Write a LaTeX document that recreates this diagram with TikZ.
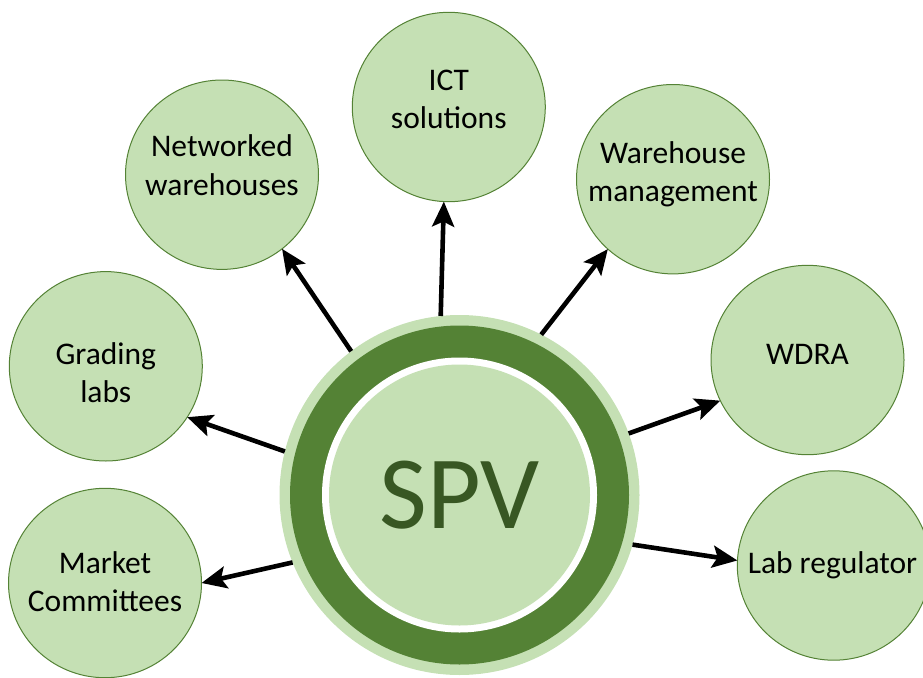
\documentclass[tikz,border=0pt]{standalone}
\usepackage{fontspec}
\setmainfont{Carlito}
\usetikzlibrary{shapes.geometric,arrows.meta}
\definecolor{lightg}{HTML}{C5E0B4}
\definecolor{darkg}{HTML}{548235}
\definecolor{textg}{HTML}{385723}
\begin{document}
\begin{tikzpicture}[x=1pt,y=-1pt,
  sat/.style={ellipse, draw=darkg, line width=1pt, fill=lightg, minimum width=193pt, minimum height=189.4pt, inner sep=0pt, outer sep=0pt},
  lbl/.style={anchor=base, inner sep=0pt, font=\fontsize{31.5}{38.5}\selectfont, text=black},
  disc/.style={circle, inner sep=0pt, outer sep=0pt},
  conn/.style={line width=4.6pt, -{Stealth[length=25pt,width=22pt,inset=5pt]}},
]
\useasboundingbox (0,0) rectangle (923,677);
% central SPV
\node[disc, fill=lightg, minimum size=360pt] (spv) at (459.5,495) {};
\node[disc, fill=darkg, minimum size=339pt] (ring) at (spv.center) {};
\node[disc, fill=white, minimum size=275pt] (gap) at (spv.center) {};
\node[disc, fill=lightg, minimum size=261pt, font=\fontsize{104}{120}\selectfont, text=textg] (core) at (spv.center) {SPV};
% satellites
\node[sat] (nw) at (222,174.7) {};
\node[lbl] (nwt) at (222,156.7) {\begin{tabular}[t]{@{}c@{}}Networked\\warehouses\end{tabular}};
\node[sat] (ict) at (448.8,107) {};
\node[lbl] (ictt) at (448.8,90) {\begin{tabular}[t]{@{}c@{}}ICT\\solutions\end{tabular}};
\node[sat] (wm) at (673,179.2) {};
\node[lbl] (wmt) at (673,163.3) {\begin{tabular}[t]{@{}c@{}}Warehouse\\management\end{tabular}};
\node[sat] (gl) at (105.8,366.3) {};
\node[lbl] (glt) at (105.8,364.3) {\begin{tabular}[t]{@{}c@{}}Grading\\labs\end{tabular}};
\node[sat] (mc) at (105,583) {};
\node[lbl] (mct) at (105,573.3) {\begin{tabular}[t]{@{}c@{}}Market\\Committees\end{tabular}};
\node[sat] (wd) at (807.5,360) {};
\node[lbl] (wdt) at (807.5,364.3) {WDRA};
\node[sat] (lr) at (833.8,565.5) {};
\node[lbl] (lrt) at (832.5,573.3) {Lab regulator};
% connectors
\draw[conn] (spv.127.6) -- (nw.-51.7);
\draw[conn] (spv.96.8) -- (ict.-93.6);
\draw[conn] (spv.63.6) -- (wm.-133.1);
\draw[conn] (spv.20.7) -- (wd.205.2);
\draw[conn] (spv.-16.5) -- (lr.177.8);
\draw[conn] (spv.166.1) -- (gl.-32.9);
\draw[conn] (spv.202) -- (mc.0.2);
\end{tikzpicture}
\end{document}
